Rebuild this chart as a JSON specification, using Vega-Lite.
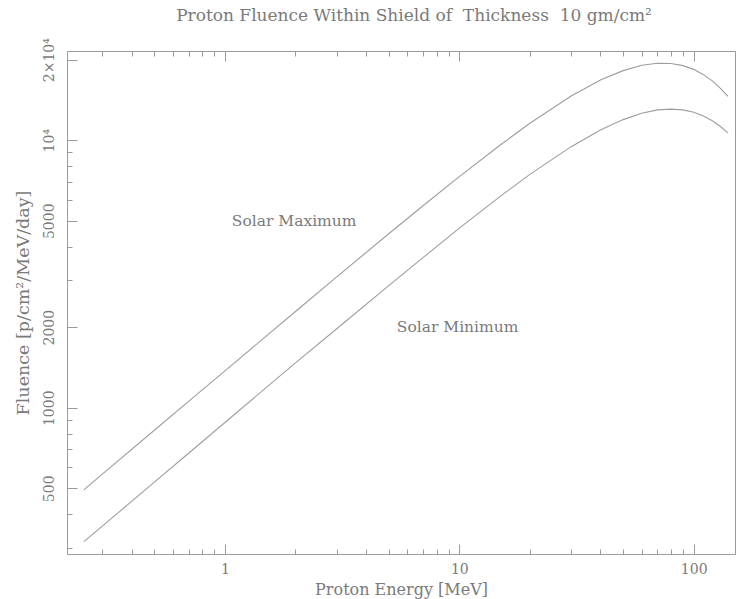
{
  "$schema": "https://vega.github.io/schema/vega-lite/v6.json",
  "width": 668,
  "height": 503,
  "autosize": {"type": "none"},
  "padding": {"left": 67, "top": 51, "right": 1, "bottom": 45},
  "background": "white",
  "title": {
    "text": "Proton Fluence Within Shield of\u00a0 Thickness\u00a0 10 gm/cm²",
    "anchor": "middle",
    "dx": 13,
    "offset": 0,
    "baseline": "alphabetic",
    "font": "DejaVu Serif",
    "fontSize": 17,
    "fontWeight": "normal",
    "color": "#7a7a7a"
  },
  "config": {
    "view": {"stroke": "#9a9a9a", "strokeWidth": 1},
    "font": "DejaVu Serif",
    "axis": {
      "grid": false,
      "domain": false,
      "tickColor": "#9a9a9a",
      "tickWidth": 1,
      "labelFont": "DejaVu Serif",
      "labelFontSize": 14,
      "labelColor": "#7a7a7a",
      "titleFont": "DejaVu Serif",
      "titleFontSize": 16,
      "titleFontWeight": "normal",
      "titleColor": "#7a7a7a"
    }
  },
  "datasets": {
    "curves": [
      {"series": "Solar Maximum", "energy": 0.25, "fluence": 493},
      {"series": "Solar Maximum", "energy": 0.3, "fluence": 565},
      {"series": "Solar Maximum", "energy": 0.5, "fluence": 824},
      {"series": "Solar Maximum", "energy": 0.7, "fluence": 1057},
      {"series": "Solar Maximum", "energy": 1, "fluence": 1374},
      {"series": "Solar Maximum", "energy": 2, "fluence": 2290},
      {"series": "Solar Maximum", "energy": 3, "fluence": 3085},
      {"series": "Solar Maximum", "energy": 5, "fluence": 4470},
      {"series": "Solar Maximum", "energy": 7, "fluence": 5690},
      {"series": "Solar Maximum", "energy": 10, "fluence": 7310},
      {"series": "Solar Maximum", "energy": 15, "fluence": 9620},
      {"series": "Solar Maximum", "energy": 20, "fluence": 11570},
      {"series": "Solar Maximum", "energy": 30, "fluence": 14620},
      {"series": "Solar Maximum", "energy": 40, "fluence": 16780},
      {"series": "Solar Maximum", "energy": 50, "fluence": 18200},
      {"series": "Solar Maximum", "energy": 60, "fluence": 19050},
      {"series": "Solar Maximum", "energy": 70, "fluence": 19400},
      {"series": "Solar Maximum", "energy": 80, "fluence": 19360},
      {"series": "Solar Maximum", "energy": 90, "fluence": 19000},
      {"series": "Solar Maximum", "energy": 100, "fluence": 18400},
      {"series": "Solar Maximum", "energy": 110, "fluence": 17580},
      {"series": "Solar Maximum", "energy": 120, "fluence": 16670},
      {"series": "Solar Maximum", "energy": 130, "fluence": 15630},
      {"series": "Solar Maximum", "energy": 140, "fluence": 14590},
      {"series": "Solar Minimum", "energy": 0.25, "fluence": 316},
      {"series": "Solar Minimum", "energy": 0.3, "fluence": 361},
      {"series": "Solar Minimum", "energy": 0.5, "fluence": 527},
      {"series": "Solar Minimum", "energy": 0.7, "fluence": 676},
      {"series": "Solar Minimum", "energy": 1, "fluence": 881},
      {"series": "Solar Minimum", "energy": 2, "fluence": 1472},
      {"series": "Solar Minimum", "energy": 3, "fluence": 1974},
      {"series": "Solar Minimum", "energy": 5, "fluence": 2862},
      {"series": "Solar Minimum", "energy": 7, "fluence": 3640},
      {"series": "Solar Minimum", "energy": 10, "fluence": 4690},
      {"series": "Solar Minimum", "energy": 15, "fluence": 6180},
      {"series": "Solar Minimum", "energy": 20, "fluence": 7450},
      {"series": "Solar Minimum", "energy": 30, "fluence": 9460},
      {"series": "Solar Minimum", "energy": 40, "fluence": 10910},
      {"series": "Solar Minimum", "energy": 50, "fluence": 11940},
      {"series": "Solar Minimum", "energy": 60, "fluence": 12610},
      {"series": "Solar Minimum", "energy": 70, "fluence": 12980},
      {"series": "Solar Minimum", "energy": 80, "fluence": 13070},
      {"series": "Solar Minimum", "energy": 90, "fluence": 12980},
      {"series": "Solar Minimum", "energy": 100, "fluence": 12720},
      {"series": "Solar Minimum", "energy": 110, "fluence": 12320},
      {"series": "Solar Minimum", "energy": 120, "fluence": 11820},
      {"series": "Solar Minimum", "energy": 130, "fluence": 11250},
      {"series": "Solar Minimum", "energy": 140, "fluence": 10650}
    ],
    "labels": [
      {"label": "Solar Maximum", "energy": 1.07, "fluence": 4980},
      {"label": "Solar Minimum", "energy": 5.41, "fluence": 1995}
    ]
  },
  "layer": [
    {
      "data": {"name": "curves"},
      "transform": [{"filter": "datum.series === 'Solar Maximum'"}],
      "mark": {"type": "line", "color": "#9d9d9d", "strokeWidth": 1.1, "clip": true},
      "encoding": {
        "x": {
          "field": "energy", "type": "quantitative",
          "scale": {"type": "log", "domain": [0.212, 150], "nice": false},
          "axis": {
            "orient": "bottom", "values": [1, 10, 100], "tickSize": -10,
            "labelPadding": 18, "format": "d",
            "title": "Proton Energy [MeV]", "titlePadding": 5
          }
        },
        "y": {
          "field": "fluence", "type": "quantitative",
          "scale": {"type": "log", "domain": [284, 21550], "nice": false},
          "axis": {
            "orient": "left", "values": [500, 1000, 2000, 5000, 10000, 20000],
            "tickSize": -10, "labelPadding": 21, "labelAngle": -90,
            "labelAlign": "center", "labelBaseline": "bottom",
            "labelExpr": "datum.value == 10000 ? '10⁴' : datum.value == 20000 ? '2×10⁴' : datum.label",
            "format": "d",
            "title": "Fluence [p/cm²/MeV/day]", "titlePadding": 10,
            "titleFontSize": 17.5
          }
        }
      }
    },
    {
      "data": {"name": "curves"},
      "transform": [{"filter": "datum.series === 'Solar Minimum'"}],
      "mark": {"type": "line", "color": "#9d9d9d", "strokeWidth": 1.1, "clip": true},
      "encoding": {
        "x": {
          "field": "energy", "type": "quantitative",
          "axis": {
            "orient": "bottom",
            "values": [0.3, 0.4, 0.5, 0.6, 0.7, 0.8, 0.9, 2, 3, 4, 5, 6, 7, 8, 9, 20, 30, 40, 50, 60, 70, 80, 90],
            "tickSize": -5, "labels": false, "title": null
          }
        },
        "y": {
          "field": "fluence", "type": "quantitative",
          "axis": {
            "orient": "left",
            "values": [300, 400, 600, 700, 800, 900, 3000, 4000, 6000, 7000, 8000, 9000],
            "tickSize": -5, "labels": false, "title": null
          }
        }
      }
    },
    {
      "data": {"name": "labels"},
      "transform": [{"filter": "datum.label === 'Solar Maximum'"}],
      "mark": {"type": "text", "align": "left", "baseline": "middle", "font": "DejaVu Serif", "fontSize": 15.5, "color": "#7a7a7a"},
      "encoding": {
        "x": {
          "field": "energy", "type": "quantitative",
          "axis": {"orient": "top", "values": [1, 10, 100], "tickSize": -10, "labels": false, "title": null}
        },
        "y": {"field": "fluence", "type": "quantitative", "axis": null},
        "text": {"field": "label"}
      }
    },
    {
      "data": {"name": "labels"},
      "transform": [{"filter": "datum.label === 'Solar Minimum'"}],
      "mark": {"type": "text", "align": "left", "baseline": "middle", "font": "DejaVu Serif", "fontSize": 15.5, "color": "#7a7a7a"},
      "encoding": {
        "x": {
          "field": "energy", "type": "quantitative",
          "axis": {
            "orient": "top",
            "values": [0.3, 0.4, 0.5, 0.6, 0.7, 0.8, 0.9, 2, 3, 4, 5, 6, 7, 8, 9, 20, 30, 40, 50, 60, 70, 80, 90],
            "tickSize": -5, "labels": false, "title": null
          }
        },
        "y": {"field": "fluence", "type": "quantitative", "axis": null},
        "text": {"field": "label"}
      }
    }
  ],
  "resolve": {"axis": {"x": "independent", "y": "independent"}}
}
